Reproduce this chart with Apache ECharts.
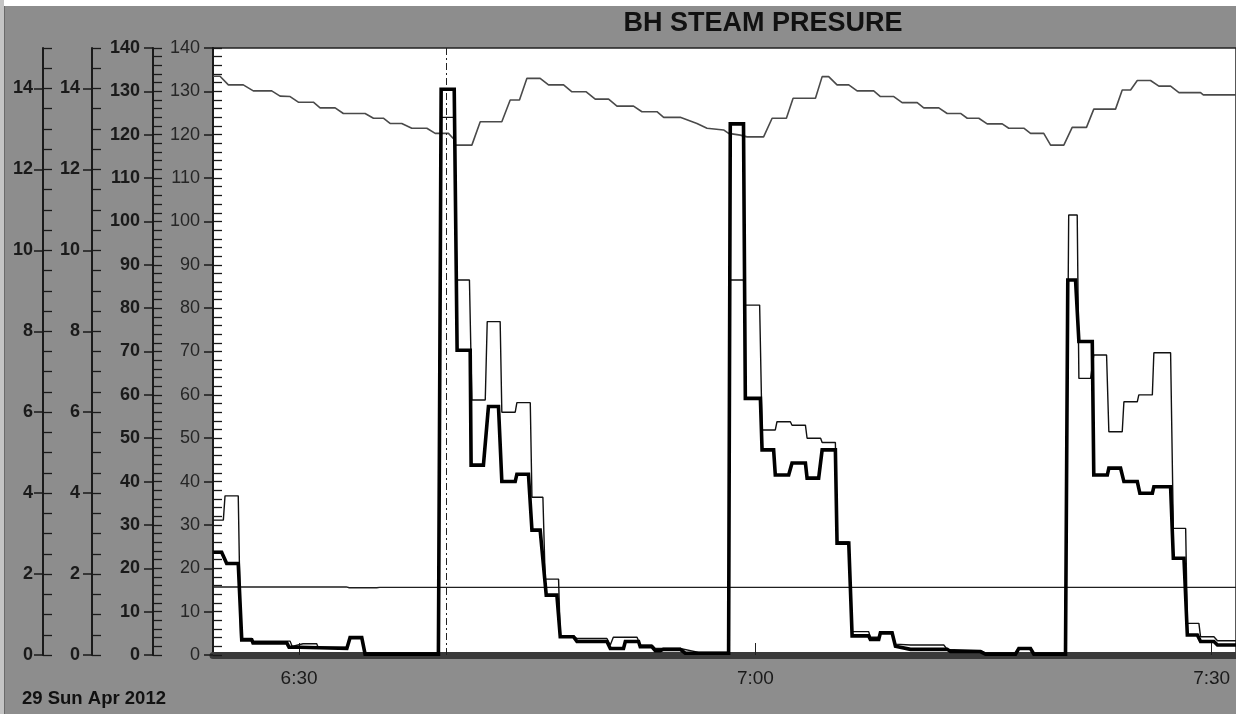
<!DOCTYPE html>
<html><head><meta charset="utf-8">
<script src="https://cdn.jsdelivr.net/npm/echarts@6/dist/echarts.min.js"></script>
<style>html,body{margin:0;padding:0;background:#fff}#c{width:1236px;height:714px}</style>
</head><body><div id="c"></div>
<script>
// ---- text ----
const chartTitle = 'BH STEAM PRESURE';
const dateLabel = '29 Sun Apr 2012';
// ---- x axis (minutes after 6:00) ----
const xMin = 24.34, xMax = 91.6;
const xTickValues = [30, 60, 90];
const xTickLabels = ['6:30', '7:00', '7:30'];
const cursorTime = 39.67;
// ---- y tick labels for the 0..15 scales ----
const smallScaleTicks = [0, 2, 4, 6, 8, 10, 12, 14];

// ---- steam pressure (top grey line) ----
const pressureT = [24.36,24.80,25.35,26.33,26.99,28.20,28.75,29.41,29.95,30.94,31.38,32.37,32.91,34.34,34.89,35.54,35.98,36.75,37.41,38.40,38.95,39.82,40.20,40.26,41.36,41.91,43.33,43.88,44.49,44.98,45.85,46.40,47.39,47.94,48.88,49.47,50.35,50.90,51.99,52.54,53.53,53.97,55.06,56.16,56.82,57.91,58.24,59.01,59.45,60.54,61.10,62.04,62.48,63.95,64.39,64.82,65.37,66.14,66.69,67.78,68.22,69.10,69.65,70.64,71.07,72.06,72.61,73.49,73.93,74.69,75.24,76.23,76.66,77.65,78.09,78.96,79.41,80.28,80.83,81.77,82.25,83.68,84.12,84.67,85.11,85.98,86.53,87.30,87.85,89.27,89.45,91.64];
const pressureV = [133.5,133.5,131.5,131.5,130.1,130.1,128.9,128.8,127.5,127.5,126.2,126.2,124.9,124.9,123.8,123.8,122.6,122.6,121.5,121.5,120.3,120.3,118.9,117.6,117.6,123.0,123.0,128.0,128.0,133.0,133.0,131.5,131.5,129.9,129.9,128.2,128.2,126.6,126.6,125.3,125.3,124.0,124.0,122.6,121.5,121.1,120.3,119.9,119.5,119.5,123.8,123.8,128.4,128.4,133.4,133.4,131.5,131.5,130.1,130.1,128.8,128.8,127.4,127.4,126.2,126.2,124.9,124.9,123.8,123.8,122.5,122.5,121.5,121.5,120.3,120.3,117.6,117.6,121.7,121.7,125.9,125.9,130.3,130.3,132.5,132.5,131.2,131.2,129.7,129.7,129.2,129.2];

// ---- thin black line ----
const thinT = [24.36,25.02,25.13,26.00,26.16,26.89,26.97,29.41,29.54,30.26,31.16,31.25,33.14,33.35,34.12,34.34,39.16,39.34,40.20,40.37,41.20,41.36,42.24,42.37,43.22,43.33,44.21,44.32,45.20,45.31,46.03,46.18,47.06,47.17,48.04,48.27,50.24,50.46,50.66,52.22,52.43,53.20,53.42,55.06,56.27,58.24,58.35,59.22,59.34,60.28,60.44,61.31,61.42,62.30,62.41,63.29,63.40,64.29,64.39,65.26,65.37,66.14,66.36,67.45,67.56,68.11,68.22,68.99,69.21,70.20,72.39,72.61,74.80,75.13,77.10,77.32,78.09,78.31,80.39,80.60,81.16,81.27,82.04,82.25,83.09,83.24,84.12,84.23,85.11,85.21,86.10,86.20,87.30,87.48,88.29,88.40,89.16,89.27,90.15,90.38,91.64];
const thinV = [31.1,31.1,36.7,36.7,3.8,3.8,3.2,3.2,2.0,2.6,2.6,1.8,1.8,4.2,4.2,0.5,0.5,124.0,124.0,86.5,86.5,58.8,58.8,76.9,76.9,56.0,56.0,58.2,58.2,36.4,36.4,17.5,17.5,4.4,4.4,3.8,3.8,2.3,4.1,4.1,2.3,2.3,1.5,1.5,0.6,0.6,86.5,86.5,80.7,80.7,51.9,51.9,53.8,53.8,53.0,53.0,50.0,50.0,49.0,49.0,26.1,26.1,5.4,5.4,4.1,4.1,5.3,5.3,2.5,2.3,2.3,1.3,1.0,0.4,0.4,1.7,1.7,0.4,0.4,101.5,101.5,63.8,63.8,69.2,69.2,51.5,51.5,58.4,58.4,60.0,60.0,69.7,69.7,29.2,29.2,7.3,7.3,4.2,4.2,3.3,3.3];

// ---- thick black line ----
const thickT = [24.36,24.91,25.24,26.00,26.23,26.89,26.97,29.19,29.34,30.06,30.19,33.14,33.35,34.12,34.34,39.16,39.34,40.20,40.39,41.25,41.31,42.12,42.45,43.11,43.33,44.21,44.32,45.08,45.31,45.85,46.25,46.95,47.17,48.04,48.27,50.24,50.46,51.33,51.45,52.32,52.43,53.20,53.42,53.75,53.95,55.06,55.39,58.24,58.35,59.22,59.34,60.33,60.44,61.20,61.31,62.19,62.41,63.29,63.40,64.16,64.39,65.26,65.37,66.14,66.36,67.45,67.56,68.11,68.22,68.99,69.21,70.20,72.61,72.83,74.80,75.13,77.10,77.32,78.09,78.31,80.39,80.54,81.05,81.27,82.15,82.25,83.14,83.24,84.01,84.23,85.11,85.28,86.10,86.20,87.30,87.48,88.18,88.40,89.06,89.27,90.15,90.38,91.64];
const thickV = [23.7,23.7,21.1,21.1,3.5,3.5,2.8,2.8,1.8,1.8,1.5,1.5,4.0,4.0,0.2,0.2,130.5,130.5,70.3,70.3,43.8,43.8,57.3,57.3,40.0,40.0,41.7,41.7,28.8,28.8,13.8,13.8,4.2,4.2,3.1,3.1,1.5,1.5,3.1,3.1,1.9,1.9,1.0,1.0,1.3,1.3,0.4,0.4,122.5,122.5,59.2,59.2,47.3,47.3,41.5,41.5,44.3,44.3,40.8,40.8,47.3,47.3,25.8,25.8,4.4,4.4,3.6,3.6,5.1,5.1,2.0,1.3,1.3,0.8,0.8,0.2,0.2,1.5,1.5,0.2,0.2,86.5,86.5,72.3,72.3,41.5,41.5,43.1,43.1,40.0,40.0,37.3,37.3,38.8,38.8,22.3,22.3,4.6,4.6,3.1,3.1,2.3,2.3];

// ---- horizontal reference line ----
const refT = [24.34, 33.10, 33.30, 35.10, 35.30, 91.64];
const refV = [15.7, 15.7, 15.5, 15.5, 15.6, 15.6];

const zip = (t, v) => t.map((x, i) => [x, v[i]]);

const BG = '#8d8d8d';
const INK = '#1a1a1a';
const FONT = 'Liberation Sans, Arial, sans-serif';
const labelFont = { fontFamily: FONT, fontSize: 18, color: INK, fontWeight: 'bold' };

function majorAxis(offset, max, interval, margin, custom, extra) {
  const ax = {
    type: 'value', position: 'left', offset: offset, min: 0, max: max, interval: interval,
    axisLine: { show: true, lineStyle: { color: INK, width: 2 } },
    axisTick: { show: true, inside: false, length: 9, lineStyle: { color: INK, width: 1.5 } },
    axisLabel: Object.assign({ show: true, margin: margin }, labelFont, extra || {}),
    splitLine: { show: false }
  };
  if (custom) { ax.axisLabel.customValues = custom; ax.axisTick.customValues = custom; }
  return ax;
}
function minorAxis(offset, max, interval) {
  return {
    type: 'value', position: 'left', offset: offset, min: 0, max: max, interval: interval,
    axisLine: { show: false },
    axisTick: { show: true, inside: true, length: 9, lineStyle: { color: INK, width: 1.3 } },
    axisLabel: { show: false },
    splitLine: { show: false }
  };
}

const chart = echarts.init(document.getElementById('c'), null, { renderer: 'canvas' });
chart.setOption({
  animation: false,
  backgroundColor: BG,
  grid: { left: 213, right: 0, top: 48, bottom: 59, show: true, backgroundColor: '#ffffff', borderColor: '#222', borderWidth: 1.5, containLabel: false, outerBoundsMode: 'none' },
  xAxis: {
    type: 'value', min: xMin, max: xMax, offset: 3.5,
    axisLine: { show: true, lineStyle: { color: '#3a3a3a', width: 7 } },
    axisTick: { show: true, inside: true, length: 12, customValues: xTickValues, lineStyle: { color: '#222', width: 1 } },
    axisLabel: Object.assign({ margin: 11, customValues: xTickValues,
      formatter: v => xTickLabels[xTickValues.indexOf(v)] || '' }, labelFont, { fontWeight: 'normal', fontSize: 19 }),
    splitLine: { show: false }
  },
  yAxis: [
    majorAxis(0, 140, 10, 13, null, { fontWeight: 'normal', color: '#262626' }),
    minorAxis(0, 140, 2),
    majorAxis(60, 140, 10, 13, null),
    minorAxis(60, 140, 2),
    majorAxis(121, 15, 2, 12, smallScaleTicks),
    minorAxis(121, 15, 0.5),
    majorAxis(170, 15, 2, 10, smallScaleTicks),
    minorAxis(170, 15, 0.5)
  ],
  graphic: [
    { type: 'rect', shape: { x: 0, y: 0, width: 1236, height: 6 }, style: { fill: '#ffffff' }, silent: true },
    { type: 'rect', shape: { x: 0, y: 0, width: 4, height: 714 }, style: { fill: '#c4c4c4' }, silent: true },
    { type: 'line', shape: { x1: 4.5, y1: 6, x2: 4.5, y2: 714 }, style: { stroke: '#6a6a6a', lineWidth: 1 }, silent: true },
    { type: 'text', x: 763, y: 24, style: { text: chartTitle, fontFamily: FONT, fontSize: 27, fontWeight: 'bold', fill: '#111', align: 'center', verticalAlign: 'middle' } },
    { type: 'text', x: 22, y: 699, style: { text: dateLabel, fontFamily: FONT, fontSize: 18.5, fontWeight: 'bold', fill: '#111', align: 'left', verticalAlign: 'middle' } }
  ],
  series: [
    { name: 'ref', type: 'line', data: zip(refT, refV), showSymbol: false, lineStyle: { color: '#1e1e1e', width: 1.4 }, z: 2 },
    { name: 'pressure', type: 'line', data: zip(pressureT, pressureV), showSymbol: false, lineStyle: { color: '#4a4a4a', width: 1.6 }, z: 3 },
    { name: 'thin', type: 'line', data: zip(thinT, thinV), showSymbol: false, lineStyle: { color: '#111', width: 1.4 }, z: 4 },
    { name: 'thick', type: 'line', data: zip(thickT, thickV), showSymbol: false, lineStyle: { color: '#000', width: 3.6, join: 'miter' }, z: 5,
      markLine: { silent: true, symbol: ['none', 'none'], label: { show: false },
        lineStyle: { color: '#222', width: 1, type: [7, 3, 2, 3] }, data: [{ xAxis: cursorTime }] } }
  ]
});
</script></body></html>
